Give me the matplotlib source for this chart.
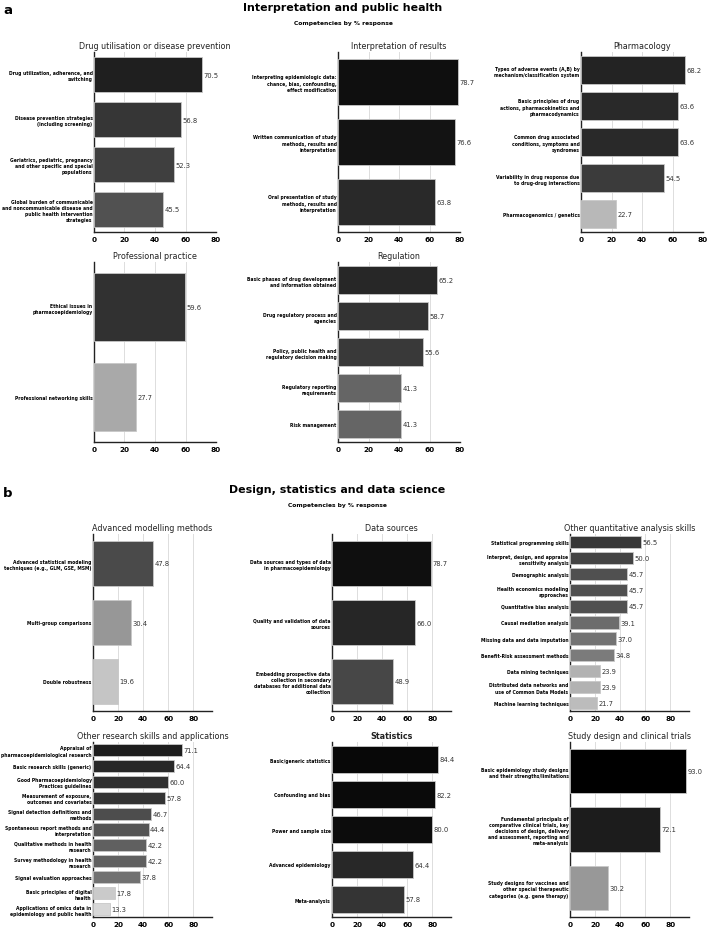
import matplotlib
matplotlib.use("Agg")
import matplotlib.pyplot as plt
import numpy as np

plt.rcParams['font.family'] = ['DejaVu Sans']

# ---------------- DATA ----------------
a1_title = "Drug utilisation or disease prevention"
a1_labels = ["Drug utilization, adherence, and\nswitching",
             "Disease prevention strategies\n(including screening)",
             "Geriatrics, pediatric, pregnancy\nand other specific and special\npopulations",
             "Global burden of communicable\nand noncommunicable disease and\npublic health intervention\nstrategies"]
a1_values = [70.5, 56.8, 52.3, 45.5]

a2_title = "Interpretation of results"
a2_labels = ["Interpreting epidemiologic data:\nchance, bias, confounding,\neffect modification",
             "Written communication of study\nmethods, results and\ninterpretation",
             "Oral presentation of study\nmethods, results and\ninterpretation"]
a2_values = [78.7, 76.6, 63.8]

a3_title = "Pharmacology"
a3_labels = ["Types of adverse events (A,B) by\nmechanism/classification system",
             "Basic principles of drug\nactions, pharmacokinetics and\npharmacodynamics",
             "Common drug associated\nconditions, symptoms and\nsyndromes",
             "Variability in drug response due\nto drug-drug interactions",
             "Pharmacogenomics / genetics"]
a3_values = [68.2, 63.6, 63.6, 54.5, 22.7]

a4_title = "Professional practice"
a4_labels = ["Ethical issues in\npharmacoepidemiology",
             "Professional networking skills"]
a4_values = [59.6, 27.7]

a5_title = "Regulation"
a5_labels = ["Basic phases of drug development\nand information obtained",
             "Drug regulatory process and\nagencies",
             "Policy, public health and\nregulatory decision making",
             "Regulatory reporting\nrequirements",
             "Risk management"]
a5_values = [65.2, 58.7, 55.6, 41.3, 41.3]

b1_title = "Advanced modelling methods"
b1_labels = ["Advanced statistical modeling\ntechniques (e.g., GLM, GSE, MSM)",
             "Multi-group comparisons",
             "Double robustness"]
b1_values = [47.8, 30.4, 19.6]

b2_title = "Data sources"
b2_labels = ["Data sources and types of data\nin pharmacoepidemiology",
             "Quality and validation of data\nsources",
             "Embedding prospective data\ncollection in secondary\ndatabases for additional data\ncollection"]
b2_values = [78.7, 66.0, 48.9]

b3_title = "Other quantitative analysis skills"
b3_labels = ["Statistical programming skills",
             "Interpret, design, and appraise\nsensitivity analysis",
             "Demographic analysis",
             "Health economics modeling\napproaches",
             "Quantitative bias analysis",
             "Causal mediation analysis",
             "Missing data and data imputation",
             "Benefit-Risk assessment methods",
             "Data mining techniques",
             "Distributed data networks and\nuse of Common Data Models",
             "Machine learning techniques"]
b3_values = [56.5, 50.0, 45.7, 45.7, 45.7, 39.1, 37.0, 34.8, 23.9, 23.9, 21.7]

b4_title = "Other research skills and applications"
b4_labels = ["Appraisal of\npharmacoepidemiological research",
             "Basic research skills (generic)",
             "Good Pharmacoepidemiology\nPractices guidelines",
             "Measurement of exposure,\noutcomes and covariates",
             "Signal detection definitions and\nmethods",
             "Spontaneous report methods and\ninterpretation",
             "Qualitative methods in health\nresearch",
             "Survey methodology in health\nresearch",
             "Signal evaluation approaches",
             "Basic principles of digital\nhealth",
             "Applications of omics data in\nepidemiology and public health"]
b4_values = [71.1, 64.4, 60.0, 57.8, 46.7, 44.4, 42.2, 42.2, 37.8, 17.8, 13.3]

b5_title = "Statistics"
b5_labels = ["Basic/generic statistics", "Confounding and bias",
             "Power and sample size", "Advanced epidemiology", "Meta-analysis"]
b5_values = [84.4, 82.2, 80.0, 64.4, 57.8]

b6_title = "Study design and clinical trials"
b6_labels = ["Basic epidemiology study designs\nand their strengths/limitations",
             "Fundamental principals of\ncomparative clinical trials, key\ndecisions of design, delivery\nand assessment, reporting and\nmeta-analysis",
             "Study designs for vaccines and\nother special therapeutic\ncategories (e.g. gene therapy)"]
b6_values = [93.0, 72.1, 30.2]

panel_a_title = "Interpretation and public health"
panel_b_title = "Design, statistics and data science"
subtitle = "Competencies by % response"
a_ticks = [0, 20, 40, 60, 80]
b_ticks = [0, 20, 40, 60, 80]

# ---------------- STYLE ----------------
W, H = 709, 929
fig = plt.figure(figsize=(W / 100, H / 100), dpi=100)

# grey-level mapping (value -> grey) used for bar colouring
_gv = [0, 13, 20, 24, 28, 30, 35, 41, 45, 50, 56, 63, 70, 80, 93]
_gl = [235, 216, 196, 178, 168, 153, 122, 102, 82, 68, 56, 42, 32, 12, 0]


def grey(v):
    g = np.interp(v, _gv, _gl) / 255.0
    return (g, g, g)


def px_axes(l, t, r, b):
    return fig.add_axes([l / W, 1 - b / H, (r - l) / W, (b - t) / H])


def draw(ax, title, labels, values, xmax, ticks, bold_title=False):
    n = len(values)
    y = np.arange(n)
    ax.barh(y, values, height=0.76, color=[grey(v) for v in values],
            edgecolor='#c8c8c8', linewidth=0.6, zorder=3)
    for yi, v in zip(y, values):
        ax.text(v + xmax * 0.012, yi, f"{v:.1f}", va='center', ha='left',
                fontsize=4.9, color='#333333', zorder=4)
    ax.set_ylim(n - 0.5, -0.5)
    ax.set_xlim(0, xmax)
    ax.set_yticks(y)
    ax.set_yticklabels(labels, fontsize=3.25, fontweight='bold', linespacing=1.3)
    ax.set_xticks(ticks)
    ax.set_xticklabels([str(t) for t in ticks], fontsize=5.2, fontweight='bold')
    ax.tick_params(axis='y', length=0, pad=1)
    ax.tick_params(axis='x', length=0, pad=3)
    for s in ['top', 'right']:
        ax.spines[s].set_visible(False)
    for s in ['left', 'bottom']:
        ax.spines[s].set_linewidth(1.0)
        ax.spines[s].set_color('#222222')
    ax.grid(axis='x', color='#dddddd', linewidth=0.7, zorder=0)
    ax.set_axisbelow(True)
    ax.set_title(title, fontsize=5.75, pad=3,
                 fontweight='bold' if bold_title else 'normal', color='#222222')


# Panel a
draw(px_axes(94, 53, 216, 233), a1_title, a1_labels, a1_values, 80, a_ticks)
draw(px_axes(338, 53, 460, 233), a2_title, a2_labels, a2_values, 80, a_ticks)
draw(px_axes(581, 53, 703, 233), a3_title, a3_labels, a3_values, 80, a_ticks)
draw(px_axes(94, 263, 216, 443), a4_title, a4_labels, a4_values, 80, a_ticks)
draw(px_axes(338, 263, 460, 443), a5_title, a5_labels, a5_values, 80, a_ticks)

# Panel b
draw(px_axes(93, 535, 212, 712), b1_title, b1_labels, b1_values, 95, b_ticks)
draw(px_axes(332, 535, 451, 712), b2_title, b2_labels, b2_values, 95, b_ticks)
draw(px_axes(570, 535, 689, 712), b3_title, b3_labels, b3_values, 95, b_ticks)
draw(px_axes(93, 743, 212, 918), b4_title, b4_labels, b4_values, 95, b_ticks)
draw(px_axes(332, 743, 451, 918), b5_title, b5_labels, b5_values, 95, b_ticks,
     bold_title=True)
draw(px_axes(570, 743, 689, 918), b6_title, b6_labels, b6_values, 95, b_ticks)

# Headings
fig.text(3 / W, 1 - 10.5 / H, "a", fontsize=9.5, fontweight='bold', va='center', ha='left')
fig.text(343 / W, 1 - 8 / H, panel_a_title, fontsize=7.9, fontweight='bold',
         va='center', ha='center')
fig.text(343 / W, 1 - 23.5 / H, subtitle, fontsize=4.3, fontweight='bold',
         va='center', ha='center')
fig.text(3 / W, 1 - 494 / H, "b", fontsize=9.5, fontweight='bold', va='center', ha='left')
fig.text(337 / W, 1 - 490 / H, panel_b_title, fontsize=7.9, fontweight='bold',
         va='center', ha='center')
fig.text(337 / W, 1 - 506 / H, subtitle, fontsize=4.3, fontweight='bold',
         va='center', ha='center')

fig.savefig("out.png", dpi=100, facecolor='white')
